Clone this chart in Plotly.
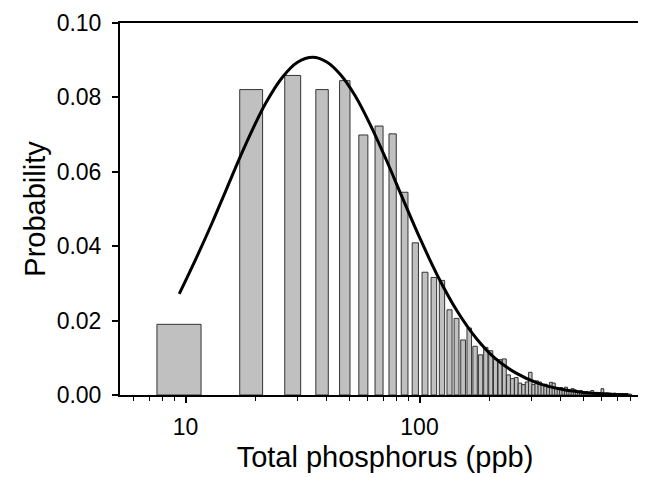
import plotly.graph_objects as go

# ---- data ----
bin_centers = [9.6, 19.2, 28.8, 38.4, 48.0, 57.6, 67.2, 76.8, 86.4, 96.0,
               105.6, 115.2, 124.8, 134.4, 144.0, 153.6, 163.2, 172.8, 182.4, 192.0,
               201.6, 211.2, 220.8, 230.4, 240.0, 249.6, 259.2, 268.8, 278.4, 288.0,
               297.6, 307.2, 316.8, 326.4, 336.0, 345.6, 355.2, 364.8, 374.4, 384.0,
               393.6, 403.2, 412.8, 422.4, 432.0, 441.6, 451.2, 460.8, 470.4, 480.0,
               489.6, 499.2, 508.8, 518.4, 528.0, 537.6, 547.2, 556.8, 566.4, 576.0,
               585.6, 595.2, 604.8, 614.4, 624.0, 633.6, 643.2, 652.8, 662.4, 672.0,
               681.6, 691.2, 700.8, 710.4, 720.0, 729.6, 739.2, 748.8, 758.4, 768.0,
               777.6, 787.2, 796.8]

probability = [0.0190, 0.0821, 0.0859, 0.0821, 0.0845, 0.0699, 0.0723, 0.0702, 0.0545, 0.0409,
               0.0330, 0.0316, 0.0308, 0.0229, 0.0206, 0.0148, 0.0180, 0.0131, 0.0108, 0.0128,
               0.0119, 0.0097, 0.0095, 0.0097, 0.0054, 0.0044, 0.0047, 0.0032, 0.0028, 0.0035,
               0.0061, 0.0028, 0.0038, 0.0035, 0.0026, 0.0029, 0.0021, 0.0034, 0.0032, 0.0019,
               0.0016, 0.0020, 0.0014, 0.0021, 0.0012, 0.0011, 0.0017, 0.0014, 0.0010, 0.0009,
               0.0012, 0.0008, 0.0007, 0.0009, 0.0006, 0.0008, 0.0012, 0.0006, 0.0005, 0.0007,
               0.0005, 0.0006, 0.0017, 0.0005, 0.0004, 0.0006, 0.0004, 0.0005, 0.0003, 0.0004,
               0.0005, 0.0003, 0.0004, 0.0003, 0.0003, 0.0002, 0.0003, 0.0002, 0.0002, 0.0003,
               0.0002, 0.0002, 0.0002]

fit_tp = [9.4, 11, 13, 15, 18, 22, 26, 30, 35, 40, 46, 53, 62, 72, 84, 100,
          120, 145, 175, 210, 260, 320, 400, 500, 620, 780]
fit_prob = [0.0272, 0.0362, 0.0463, 0.0555, 0.0671, 0.0784, 0.0855, 0.0894, 0.0908,
            0.0896, 0.0861, 0.0805, 0.0723, 0.0633, 0.0534, 0.0424, 0.0318, 0.0225,
            0.0152, 0.0099, 0.0058, 0.0032, 0.0016, 0.0007, 0.0003, 0.0001]

x_tickvals = [10, 100]
x_ticktext = ["10", "100"]
x_minor = [6, 7, 8, 9, 20, 30, 40, 50, 60, 70, 80, 90, 200, 300, 400, 500, 600, 700, 800, 900]
y_tickvals = [0.0, 0.02, 0.04, 0.06, 0.08, 0.10]

# bar widths (style): linear data units, slightly growing with position
bar_widths = [3.9 + 0.021 * c for c in bin_centers]

FONT = "Liberation Sans, Arial, Helvetica, sans-serif"

fig = go.Figure()
fig.add_trace(go.Bar(
    x=bin_centers, y=probability, width=bar_widths,
    marker=dict(color="#c0c0c0", line=dict(color="#333333", width=1)),
    showlegend=False,
))
fig.add_trace(go.Scatter(
    x=fit_tp, y=fit_prob, mode="lines",
    line=dict(color="black", width=3, shape="spline"),
    showlegend=False,
))

fig.update_layout(
    width=646, height=477,
    margin=dict(l=112, r=2, t=14, b=90),
    paper_bgcolor="white", plot_bgcolor="white",
    font=dict(family=FONT, color="black", size=23),
)
fig.update_xaxes(
    type="log", range=[0.72, 2.985],
    tickvals=x_tickvals, ticktext=x_ticktext,
    ticks="outside", ticklen=6, tickwidth=1.5, tickcolor="black",
    minor=dict(tickvals=x_minor, ticks="outside", ticklen=4, tickwidth=1.2, tickcolor="black"),
    showline=True, linecolor="black", linewidth=2, mirror=True,
    showgrid=False, zeroline=False,
    tickfont=dict(size=23), ticklabelstandoff=4,
    title=dict(text="Total phosphorus (ppb)", font=dict(size=29), standoff=8),
)
fig.update_yaxes(
    range=[0, 0.1], tickvals=y_tickvals, tickformat=".2f",
    ticks="outside", ticklen=6, tickwidth=1.5, tickcolor="black",
    showline=True, linecolor="black", linewidth=2, mirror=True,
    showgrid=False, zeroline=False,
    tickfont=dict(size=23), ticklabelstandoff=6,
    title=dict(text="Probability", font=dict(size=29), standoff=2),
)

fig.write_html("out.html")
